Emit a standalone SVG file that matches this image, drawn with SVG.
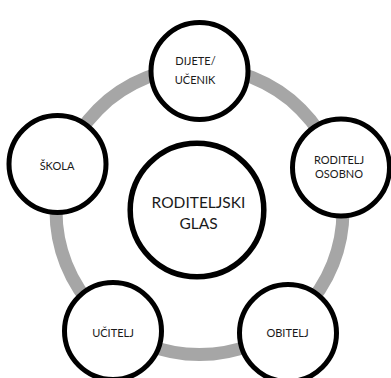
<svg xmlns="http://www.w3.org/2000/svg" width="391" height="378" viewBox="0 0 391 378">
<style>
.ring{fill:none;stroke:#a6a6a6;stroke-width:13}
.node{fill:#ffffff;stroke:#000000;stroke-width:5}
.hub{fill:#ffffff;stroke:#000000;stroke-width:5.5}
.t{font-family:Lato,"Open Sans","Liberation Sans",sans-serif;font-size:11px;fill:#1a1a1a;text-anchor:middle}
.tb{font-family:Lato,"Open Sans","Liberation Sans",sans-serif;font-size:15.5px;fill:#1a1a1a;text-anchor:middle}
</style>
<rect width="391" height="378" fill="#ffffff"/>
<g id="connectors">
<circle class="ring" cx="199.5" cy="211" r="143.5"/>
</g>
<g id="hub">
<circle class="hub" cx="197" cy="210" r="66.8"/>
<text class="tb" x="198.5" y="208">RODITELJSKI</text>
<text class="tb" x="198.5" y="229">GLAS</text>
</g>
<g id="dijete">
<circle class="node" cx="199.5" cy="71" r="48.5"/>
<text class="t" x="195.5" y="65">DIJETE/</text>
<text class="t" x="195" y="84">UČENIK</text>
</g>
<g id="skola">
<circle class="node" cx="57.5" cy="164" r="48.5"/>
<text class="t" x="57" y="170">ŠKOLA</text>
</g>
<g id="roditelj">
<circle class="node" cx="341" cy="167.5" r="48.5"/>
<text class="t" x="339" y="164">RODITELJ</text>
<text class="t" x="339" y="178">OSOBNO</text>
</g>
<g id="ucitelj">
<circle class="node" cx="113" cy="331" r="48.5"/>
<text class="t" x="113" y="336.5">UČITELJ</text>
</g>
<g id="obitelj">
<circle class="node" cx="288" cy="333" r="48.5"/>
<text class="t" x="287.5" y="336.5">OBITELJ</text>
</g>
</svg>
